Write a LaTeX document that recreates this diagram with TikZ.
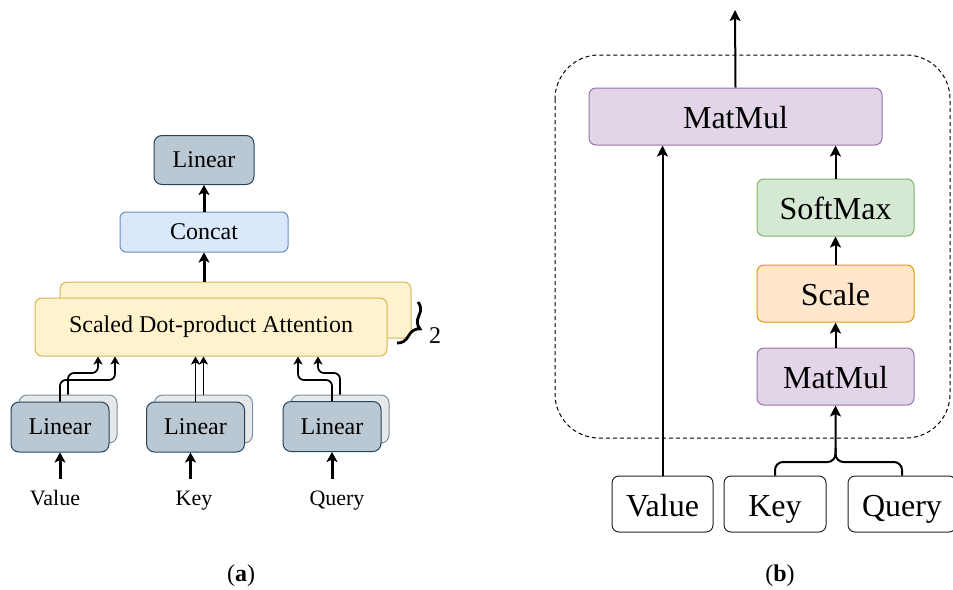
\documentclass[tikz,border=0pt]{standalone}
\usepackage{fontspec}
\setmainfont{Liberation Serif}
\usetikzlibrary{arrows.meta,decorations.pathreplacing}

\begin{document}
\begin{tikzpicture}[x=0.5pt,y=-0.5pt,
  blk/.style={draw, rounded corners=4pt, line width=0.5pt, inner sep=0pt, font=\fontsize{12}{14}\selectfont},
  bblk/.style={blk, rounded corners=3.5pt, font=\fontsize{16}{18}\selectfont, text height=12pt, text depth=0pt},
  fatarr/.style={-{Stealth[length=5pt,width=5.5pt,inset=1.2pt]}, line width=1.5pt},
  thinarr/.style={-{Stealth[length=4pt,width=4.5pt,inset=1pt]}, line width=0.85pt, rounded corners=3pt},
  midarr/.style={-{Stealth[length=5.5pt,width=5.5pt,inset=1.2pt]}, line width=1pt},
  lbl/.style={font=\fontsize{11}{13}\selectfont, text height=8pt, text depth=2.5pt, inner sep=5pt}]
\definecolor{linFill}{HTML}{BAC8D3}\definecolor{linDraw}{HTML}{23445D}
\definecolor{catFill}{HTML}{DAE8FC}\definecolor{catDraw}{HTML}{6C8EBF}
\definecolor{attFill}{HTML}{FFF2CC}\definecolor{attDraw}{HTML}{D6B656}
\definecolor{mmFill}{HTML}{E1D5E7}\definecolor{mmDraw}{HTML}{9673A6}
\definecolor{smFill}{HTML}{D5E8D4}\definecolor{smDraw}{HTML}{82B366}
\definecolor{scFill}{HTML}{FFE6CC}\definecolor{scDraw}{HTML}{D79B00}

\useasboundingbox (0,0) rectangle (953,589);

% ======================= (a): multi-head attention =======================
\begin{scope}
  \node[blk, fill=linFill, draw=linDraw, minimum width=50pt, minimum height=24.5pt] (linOut) at (204,160) {Linear};
  \node[blk, rounded corners=3pt, fill=catFill, draw=catDraw, minimum width=84pt, minimum height=20pt] (concat) at (204,232) {Concat};

  % two stacked heads
  \node[blk, rounded corners=3.5pt, fill=attFill, draw=attDraw, minimum width=175.5pt, minimum height=28pt] (attBack) at (235.5,310) {};
  \node[blk, rounded corners=3.5pt, fill=attFill, draw=attDraw, minimum width=176pt, minimum height=29pt] (att) at (211,327) {Scaled Dot-product Attention};

  % projections (back copies first)
  \foreach \nm/\cx in {V/68,K/203.5,Q/340}
    \node[blk, fill=gray!18, draw=linDraw!60, minimum width=49pt, minimum height=24pt] (lin\nm b) at (\cx,419) {};
  \node[blk, fill=linFill, draw=linDraw, minimum width=49pt, minimum height=25pt] (linV) at (60,427) {Linear};
  \node[blk, fill=linFill, draw=linDraw, minimum width=49pt, minimum height=25pt] (linK) at (195.5,427) {Linear};
  \node[blk, fill=linFill, draw=linDraw, minimum width=49pt, minimum height=25pt] (linQ) at (332,426.5) {Linear};

  \node[lbl] (lblV) at (55,500) {Value};
  \node[lbl] (lblK) at (194,500) {Key};
  \node[lbl] (lblQ) at (337,500) {Query};

  % inputs
  \draw[fatarr] (lblV.north -| linV.south) -- (linV.south);
  \draw[fatarr] ([xshift=-2.5pt]lblK.north -| linK.south) -- ([xshift=-2.5pt]linK.south);
  \draw[fatarr] (lblQ.north -| linQ.south) -- (linQ.south);

  % projections into the heads
  \draw[thinarr] (linV.north) |- (115,380) -- (att.south -| 115,380);
  \draw[thinarr] (linVb.north) |- (98,373) -- (att.south -| 98,373);
  \draw[thinarr] (linK.north) -- (att.south -| linK.north);
  \draw[thinarr] (linKb.north) -- (att.south -| linKb.north);
  \draw[thinarr] (linQ.north) |- (298,380) -- (att.south -| 298,380);
  \draw[thinarr] (linQb.north) |- (318,373) -- (att.south -| 318,373);

  % output side
  \draw[fatarr] (concat.south |- attBack.north) -- (concat.south);
  \draw[fatarr] (concat.north) -- (linOut.south);

  % head count
  \draw[line width=1.4pt, decorate, decoration={brace, amplitude=7pt}] (418,302) -- (397,343);
  \node[font=\fontsize{12}{14}\selectfont] (nHeads) at (435,336) {2};

  \node[font=\fontsize{12}{14}\selectfont] (capA) at (241,576) {(\textbf{a})};
\end{scope}

% ======================= (b): scaled dot-product attention =======================
\begin{scope}
  \draw[line width=0.5pt, dash pattern=on 2pt off 1.5pt, rounded corners=22pt] (555,55) rectangle (950,438);

  \node[bblk, fill=mmFill, draw=mmDraw, minimum width=146.5pt, minimum height=28.5pt] (mmTop) at (735.5,116.5) {MatMul};
  \node[bblk, fill=smFill, draw=smDraw, minimum width=78.5pt, minimum height=28.5pt] (soft) at (835.5,207.5) {SoftMax};
  \node[bblk, fill=scFill, draw=scDraw, minimum width=78.5pt, minimum height=28.5pt] (scl) at (835.5,293.5) {Scale};
  \node[bblk, fill=mmFill, draw=mmDraw, minimum width=78.5pt, minimum height=28.5pt] (mm) at (835.5,376.5) {MatMul};

  \node[bblk, fill=white, draw=black!85, minimum width=50.5pt, minimum height=28pt] (val) at (662.5,504) {Value};
  \node[bblk, fill=white, draw=black!85, minimum width=51pt, minimum height=28pt] (key) at (775,504) {Key};
  \node[bblk, fill=white, draw=black!85, minimum width=54pt, minimum height=28pt] (qry) at (902,504) {Query};

  \coordinate (out) at (735,10);
  \coordinate (join) at (835.5,462);

  \draw[midarr] (mmTop.north) -- (out);
  \draw[midarr] (soft.north) -- (soft.north |- mmTop.south);
  \draw[midarr] (scl.north) -- (soft.south);
  \draw[midarr] (mm.north) -- (scl.south);
  \draw[midarr] (val.north) -- (val.north |- mmTop.south);

  % key and query merge into the first product
  \draw[midarr, rounded corners=4pt] (key.north) |- (join) -- (mm.south);
  \draw[line width=1pt, rounded corners=4pt] (qry.north) |- (join) -- ++(0,-14);

  \node[font=\fontsize{12}{14}\selectfont] (capB) at (780,576) {(\textbf{b})};
\end{scope}

\end{tikzpicture}
\end{document}
